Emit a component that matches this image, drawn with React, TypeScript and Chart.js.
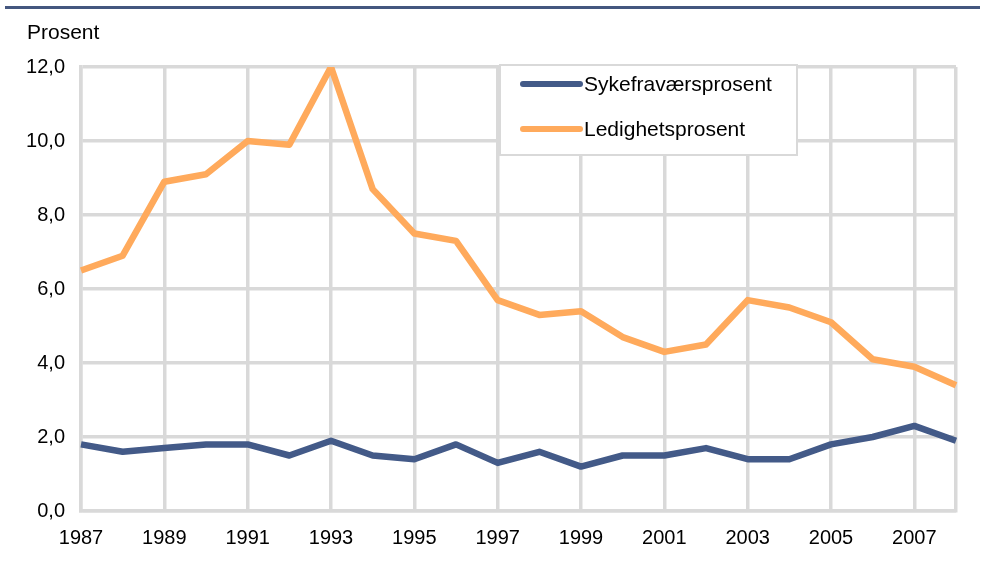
import React, { useEffect, useRef } from "react";
import { Chart, registerables } from "chart.js";

Chart.register(...registerables);

const years: string[] = [
  "1987", "1988", "1989", "1990", "1991", "1992", "1993", "1994", "1995", "1996", "1997",
  "1998", "1999", "2000", "2001", "2002", "2003", "2004", "2005", "2006", "2007", "2008",
];
const sykefravaer: number[] = [
  1.8, 1.6, 1.7, 1.8, 1.8, 1.5, 1.9, 1.5, 1.4, 1.8, 1.3,
  1.6, 1.2, 1.5, 1.5, 1.7, 1.4, 1.4, 1.8, 2.0, 2.3, 1.9,
];
const ledighet: number[] = [
  6.5, 6.9, 8.9, 9.1, 10.0, 9.9, 12.0, 8.7, 7.5, 7.3, 5.7,
  5.3, 5.4, 4.7, 4.3, 4.5, 5.7, 5.5, 5.1, 4.1, 3.9, 3.4,
];
const seriesNames: string[] = ["Sykefraværsprosent", "Ledighetsprosent"];
const yAxisTitle = "Prosent";

const BLUE = "#435a88";
const ORANGE = "#ffaa5c";
const GRID = "#d9d9d9";
const FONT = "'Liberation Sans', Arial, sans-serif";

const decorPlugin = {
  id: "decor",
  afterDraw(chart: any) {
    const ctx = chart.ctx;
    ctx.save();
    // top rule
    ctx.fillStyle = "#44577f";
    ctx.fillRect(5, 6, 975, 3);
    // axis title
    ctx.fillStyle = "#000";
    ctx.font = `21px ${FONT}`;
    ctx.textBaseline = "middle";
    ctx.textAlign = "left";
    ctx.fillText(yAxisTitle, 27, 33);
    // legend box
    const bx = 500, by = 65, bw = 297, bh = 90;
    ctx.fillStyle = "#fff";
    ctx.fillRect(bx, by, bw, bh);
    ctx.strokeStyle = GRID;
    ctx.lineWidth = 2;
    ctx.strokeRect(bx, by, bw, bh);
    const ds = chart.data.datasets;
    ds.forEach((d: any, i: number) => {
      const y = 84 + i * 45;
      ctx.strokeStyle = d.borderColor;
      ctx.lineWidth = 6;
      ctx.lineCap = "round";
      ctx.beginPath();
      ctx.moveTo(523, y);
      ctx.lineTo(580, y);
      ctx.stroke();
      ctx.fillStyle = "#000";
      ctx.font = `21px ${FONT}`;
      ctx.textBaseline = "middle";
      ctx.fillText(d.label, 584, y + 1);
    });
    ctx.restore();
  },
};

export default function App() {
  const ref = useRef<HTMLCanvasElement | null>(null);
  useEffect(() => {
    if (!ref.current) return;
    const chart = new Chart(ref.current, {
      type: "line",
      data: {
        labels: years,
        datasets: [
          {
            label: seriesNames[0],
            data: sykefravaer,
            borderColor: BLUE,
            backgroundColor: BLUE,
            borderWidth: 6.5,
            pointRadius: 0,
            tension: 0,
            borderJoinStyle: "round",
          },
          {
            label: seriesNames[1],
            data: ledighet,
            borderColor: ORANGE,
            backgroundColor: ORANGE,
            borderWidth: 6.5,
            pointRadius: 0,
            tension: 0,
            borderJoinStyle: "round",
          },
        ],
      },
      options: {
        animation: false,
        responsive: false,
        maintainAspectRatio: false,
        layout: { padding: { top: 67, right: 29, left: 0, bottom: 0 } },
        plugins: { legend: { display: false }, tooltip: { enabled: false } },
        scales: {
          x: {
            type: "category",
            offset: false,
            grid: {
              color: (c: any) => (c.index % 2 === 0 || c.index === years.length - 1 ? GRID : "rgba(0,0,0,0)"),
              lineWidth: 3.5,
              drawTicks: false,
            },
            border: { color: GRID, width: 3.5 },
            ticks: {
              autoSkip: false,
              maxRotation: 0,
              padding: 15,
              color: "#000",
              font: { family: FONT, size: 20 },
              callback: (_v: any, i: number) => (i % 2 === 0 && i < years.length - 1 ? years[i] : ""),
            },
            afterFit: (s: any) => {
              s.height = 52;
            },
          },
          y: {
            min: 0,
            max: 12,
            ticks: {
              stepSize: 2,
              padding: 16,
              color: "#000",
              font: { family: FONT, size: 20 },
              callback: (v: any) => Number(v).toFixed(1).replace(".", ","),
            },
            grid: { color: GRID, lineWidth: 3.5, drawTicks: false },
            border: { color: GRID, width: 3.5 },
            afterFit: (s: any) => {
              s.width = 81;
            },
          },
        },
      },
      plugins: [decorPlugin],
    });
    return () => chart.destroy();
  }, []);
  return (
    <div style={{ position: "absolute", left: 0, top: 0, width: 985, height: 563, background: "#fff" }}>
      <canvas ref={ref} width={985} height={563} style={{ width: 985, height: 563 }} />
    </div>
  );
}
